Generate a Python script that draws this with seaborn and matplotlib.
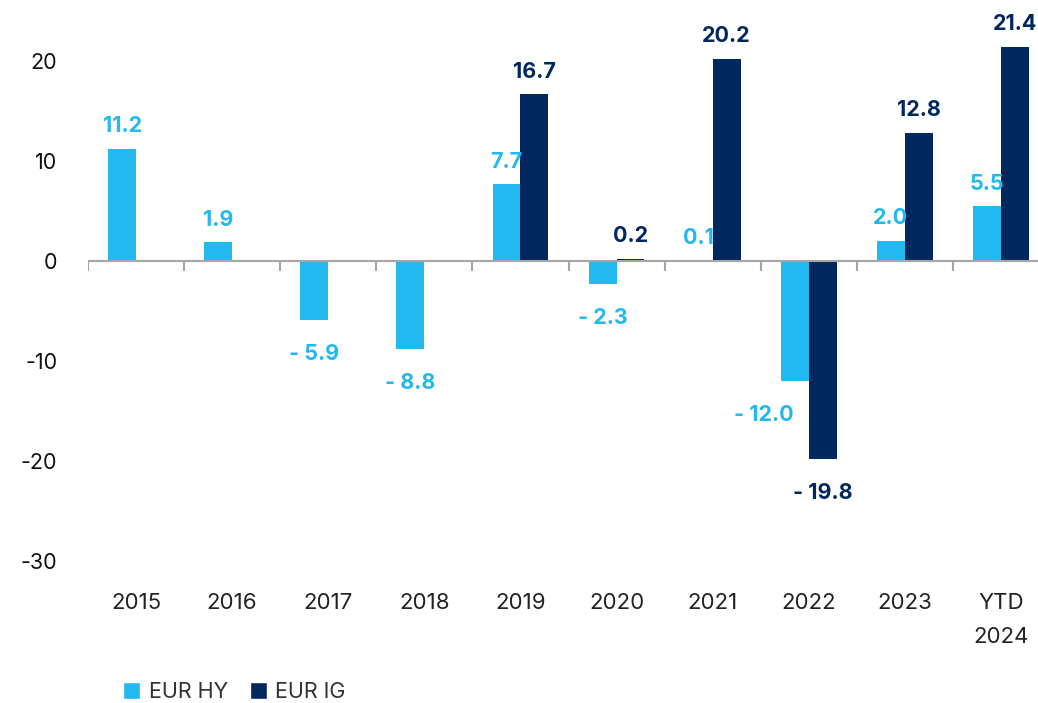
import pandas as pd
import numpy as np
import matplotlib
matplotlib.use('Agg')
import matplotlib.pyplot as plt
from matplotlib.patches import Patch
import seaborn as sns

# dati
anni = ['2015', '2016', '2017', '2018', '2019', '2020', '2021', '2022', '2023', 'YTD\n2024']
eur_hy = [11.2, 1.9, -5.9, -8.8, 7.7, -2.3, 0.1, -12.0, 2.0, 5.5]
eur_ig = [np.nan, np.nan, np.nan, np.nan, 16.7, 0.2, 20.2, -19.8, 12.8, 21.4]
serie = ['EUR HY', 'EUR IG']
colori = ['#22B8F0', '#00285F']

df = pd.DataFrame({
    'anno': anni * 2,
    'serie': [serie[0]] * len(anni) + [serie[1]] * len(anni),
    'valore': eur_hy + eur_ig,
})

sns.set_style('white')
plt.rcParams['font.family'] = ['Inter', 'DejaVu Sans']
plt.rcParams['axes.unicode_minus'] = False

fig = plt.figure(figsize=(10.38, 7.03), dpi=100)
ax = fig.add_axes([88 / 1038, 1 - 576 / 703, (1049 - 88) / 1038, 576 / 703])

sns.barplot(data=df, x='anno', y='valore', hue='serie', order=anni, hue_order=serie,
            palette=colori, width=0.58, saturation=1, legend=False, ax=ax,
            linewidth=0, edgecolor='none')

ax.set_xlim(-0.5, len(anni) - 0.5)
ax.set_ylim(-31.5, 26.1)
ax.set_yticks([20, 10, 0, -10, -20, -30])
ax.set_xlabel('')
ax.set_ylabel('')
sns.despine(ax=ax, left=True, bottom=True, top=True, right=True)
ax.tick_params(axis='y', length=0, pad=22, labelsize=15.5, labelcolor='#111111')
ax.tick_params(axis='x', length=0, pad=12, labelsize=16, labelcolor='#222222')
for t in ax.get_xticklabels():
    t.set_linespacing(1.9)

# linea dello zero con tacche tra le categorie
ax.axhline(0, color='#a6a6a6', lw=1.5, zorder=3)
ax.vlines(np.arange(-0.5, len(anni)), -1.0, 0, color='#a6a6a6', lw=1.5, zorder=3)


def etichetta(v):
    return f'- {abs(v):.1f}' if v < 0 else f'{v:.1f}'


for cont, valori, col in zip(ax.containers, [eur_hy, eur_ig], colori):
    vals = [v for v in valori if not np.isnan(v)]
    for patch, v in zip(cont.patches, vals):
        x = patch.get_x() + patch.get_width() / 2
        dx = -22 if (v < -10 and col == colori[0]) else 0
        dy = 9 if v >= 0 else -17
        ax.annotate(etichetta(v), (x, v), xytext=(dx, dy), textcoords='offset points',
                    ha='center', va='bottom' if v >= 0 else 'top',
                    fontsize=15.5, fontweight='bold', color=col)

handles = [Patch(facecolor=c, label=s) for c, s in zip(colori, serie)]
fig.legend(handles=handles, loc='center left', bbox_to_anchor=(0.1, 1 - 692 / 703),
           ncol=2, frameon=False, fontsize=15.5, handlelength=0.8, handleheight=0.8,
           handletextpad=0.4, columnspacing=1.0, labelcolor='#333333')

fig.savefig('out.png', dpi=100)
